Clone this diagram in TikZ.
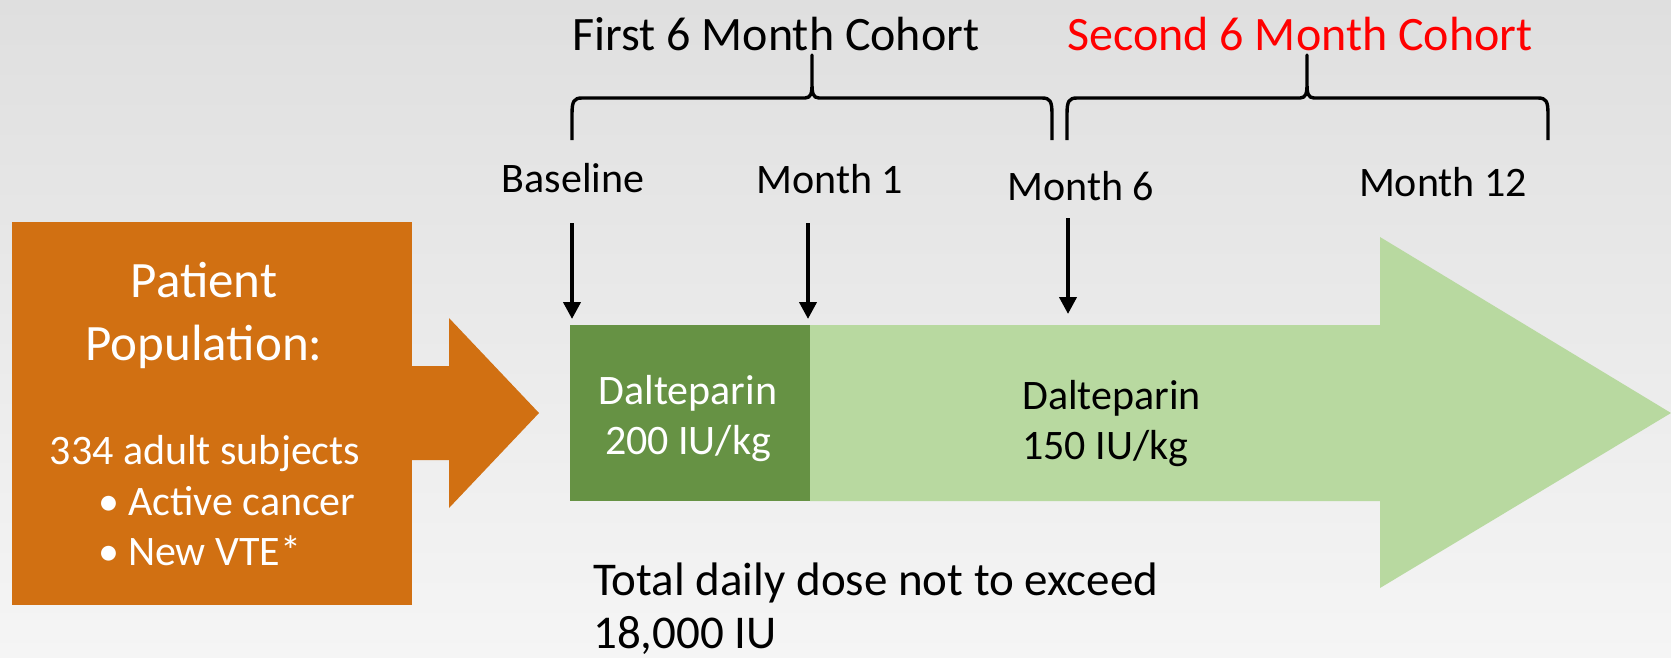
\documentclass[tikz,border=0pt]{standalone}
\usepackage{fontspec}
\setmainfont{Carlito}
\usetikzlibrary{arrows.meta,positioning}
\definecolor{bgtop}{RGB}{223,223,223}
\definecolor{bgbot}{RGB}{245,245,245}
\definecolor{popcol}{RGB}{209,112,18}
\definecolor{darkdose}{RGB}{102,146,68}
\definecolor{lightdose}{RGB}{184,217,160}
\definecolor{cohortred}{RGB}{255,0,0}
\newcommand\titlefont{\fontsize{48}{58}\selectfont}
\newcommand\bigfont{\fontsize{51}{62}\selectfont}
\newcommand\midfont{\fontsize{42}{50}\selectfont}
\newcommand\notefont{\fontsize{47}{56}\selectfont}
\tikzstyle{lbl}=[anchor=base,inner sep=0pt]
\tikzstyle{tick}=[line width=4pt,-{Triangle[length=17pt,width=17pt]}]
\tikzstyle{brace}=[line width=3.4pt,line join=round]
% square-ish curly brace: left x, middle x, right x
\newcommand\cohortbrace[3]{%
  \draw[brace] (#1,140) -- (#1,114) .. controls (#1,101) and (#1+2,98) .. (#1+10,98)
    -- (#2-7,98) .. controls (#2-1,98) and (#2,93) .. (#2,84) -- (#2,55)
    -- (#2,84) .. controls (#2,93) and (#2+1,98) .. (#2+7,98)
    -- (#3-10,98) .. controls (#3-2,98) and (#3,101) .. (#3,114) -- (#3,140);}

\begin{document}
\begin{tikzpicture}[x=1pt,y=-1pt]
  \shade[top color=bgtop,bottom color=bgbot] (0,0) rectangle (1671,657);
  \useasboundingbox (0,0) rectangle (1671,657);

  % patient population
  \fill[popcol] (12,222) rectangle (412,605);
  \fill[popcol] (412,366) -- (449,366) -- (449,318) -- (539,413)
    -- (449,508) -- (449,460) -- (412,460) -- cycle;
  \node[lbl,font=\bigfont,text=white] (pop1) at (204,297) {Patient};
  \node[lbl,font=\bigfont,text=white] (pop2) at (204,360) {Population:};
  \node[lbl,font=\midfont,text=white] (subj) at (205,464) {334 adult subjects};
  \node[lbl,font=\midfont,text=white,anchor=base west] (crit1) at (98,515) {•\hspace{9pt}Active cancer};
  \node[lbl,font=\midfont,text=white,anchor=base west] (crit2) at (98,565) {•\hspace{9pt}New VTE*};

  % treatment arrow
  \fill[lightdose] (810,325) -- (1380,325) -- (1380,237) -- (1671,413)
    -- (1380,588) -- (1380,501) -- (810,501) -- cycle;
  \fill[darkdose] (570,325) rectangle (810,501);
  \node[lbl,font=\midfont,text=white] (dose1) at (688,404) {Dalteparin};
  \node[lbl,font=\midfont,text=white] (dose1u) at (688,454) {200 IU/kg};
  \node[lbl,font=\midfont,anchor=base west] (dose2) at (1022,409) {Dalteparin};
  \node[lbl,font=\midfont,anchor=base west] (dose2u) at (1022,459) {150 IU/kg};

  % cohorts
  \node[lbl,font=\titlefont] (first) at (776,50) {First 6 Month Cohort};
  \node[lbl,font=\titlefont,text=cohortred] (second) at (1300,50) {Second 6 Month Cohort};
  \cohortbrace{572}{812}{1052}
  \cohortbrace{1067}{1307}{1548}

  % time points
  \node[lbl,font=\midfont] (base) at (573,192) {Baseline};
  \node[lbl,font=\midfont] (m1) at (830,193) {Month 1};
  \node[lbl,font=\midfont] (m6) at (1081,200) {Month 6};
  \node[lbl,font=\midfont] (m12) at (1443,196) {Month 12};
  \coordinate (t0) at (572,223); \coordinate (h0) at (572,319);
  \coordinate (t1) at (808,223); \coordinate (h1) at (808,319);
  \coordinate (t6) at (1068,218); \coordinate (h6) at (1068,314);
  \path[tick]
  (t0) edge (h0)
  (t1) edge (h1)
  (t6) edge (h6);

  \node[lbl,font=\notefont,anchor=base west] (note1) at (593,595) {Total daily dose not to exceed};
  \node[lbl,font=\notefont,anchor=base west] (note2) at (593,648) {18,000 IU};
\end{tikzpicture}
\end{document}
